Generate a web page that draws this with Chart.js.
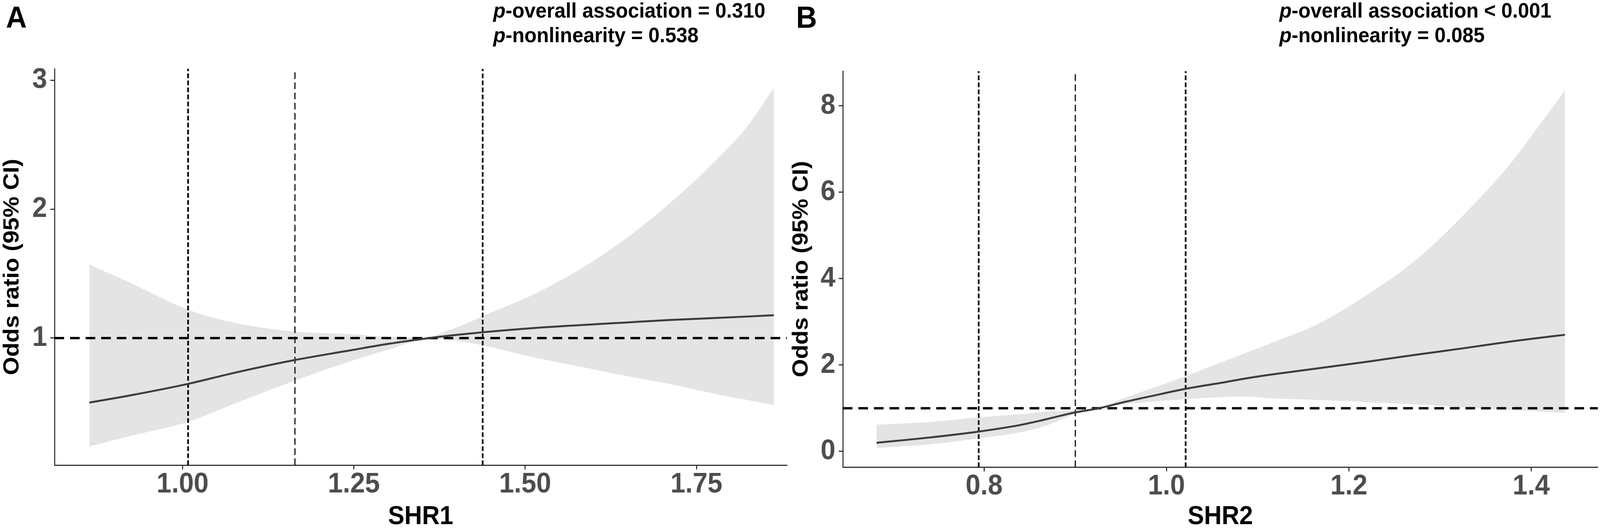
<!DOCTYPE html>
<html lang="en">
<head>
  <meta charset="UTF-8">
  <title>Odds ratio curves for SHR1 and SHR2</title>
  <script src="https://cdn.jsdelivr.net/npm/chart.js"></script>
  <style>
    html, body {
      margin: 0;
      padding: 0;
      background: #fff;
      overflow: hidden;
    }
    #page {
      width: 4317px;
      height: 1356px;
      position: absolute;
      left: 0;
      top: 0;
      transform-origin: 0 0;
      font-family: "Liberation Sans", Arial, sans-serif;
    }
    canvas {
      position: absolute;
      top: 0;
    }
    #chartA { left: 0; }
    #chartB { left: 2128px; }
    .letter {
      position: absolute;
      top: 5px;
      font-size: 78px;
      line-height: 78px;
      font-weight: bold;
      color: #000;
    }
    .note {
      position: absolute;
      top: -5px;
      font-size: 54px;
      line-height: 63px;
      font-weight: bold;
      color: #000;
      white-space: nowrap;
    }
  </style>
</head>
<body>
<div id="page">
  <div class="letter" style="left:16px">A</div>
  <div class="letter" style="left:2148px">B</div>
  <div class="note" style="left:1331px"><i>p</i>-overall association = 0.310<br><i>p</i>-nonlinearity = 0.538</div>
  <div class="note" style="left:3452px"><i>p</i>-overall association &lt; 0.001<br><i>p</i>-nonlinearity = 0.085</div>

  <canvas id="chartA" width="2150" height="1356"></canvas>
  <canvas id="chartB" width="2189" height="1356"></canvas>
</div>

  <script>
    // Panel A: SHR1
    const shr1 = [0.864, 0.923, 1.008, 1.075, 1.164, 1.245, 1.30, 1.36, 1.382, 1.404, 1.438, 1.513, 1.579, 1.644, 1.710, 1.775, 1.824, 1.863];
    const orA = [0.50, 0.555, 0.645, 0.73, 0.83, 0.905, 0.955, 1.00, 1.014, 1.027, 1.045, 1.078, 1.10, 1.12, 1.14, 1.155, 1.167, 1.177];
    const lowA = [0.16, 0.24, 0.35, 0.49, 0.67, 0.82, 0.91, 0.995, 0.99, 0.975, 0.945, 0.85, 0.78, 0.71, 0.645, 0.57, 0.52, 0.48];
    const upA = [1.57, 1.43, 1.22, 1.12, 1.05, 1.03, 1.01, 1.005, 1.05, 1.09, 1.17, 1.34, 1.53, 1.76, 2.04, 2.36, 2.64, 2.94];
    const cutsA = [1.008, 1.164, 1.438];
    const xTicksA = [1.00, 1.25, 1.50, 1.75];
    const xLabelsA = ['1.00', '1.25', '1.50', '1.75'];
    const yTicksA = [1, 2, 3];
    const yLabelsA = ['1', '2', '3'];

    // Panel B: SHR2
    const shr2 = [0.682, 0.739, 0.794, 0.839, 0.867, 0.899, 0.926, 0.953, 0.981, 1.021, 1.063, 1.087, 1.115, 1.168, 1.221, 1.274, 1.326, 1.379, 1.405, 1.437];
    const orB = [0.20, 0.32, 0.46, 0.61, 0.74, 0.90, 1.00, 1.14, 1.27, 1.45, 1.60, 1.69, 1.78, 1.93, 2.08, 2.24, 2.39, 2.55, 2.62, 2.70];
    const lowB = [0.08, 0.16, 0.30, 0.44, 0.59, 0.86, 0.99, 1.09, 1.15, 1.21, 1.26, 1.27, 1.23, 1.19, 1.14, 1.09, 1.02, 0.96, 0.93, 0.89];
    const upB = [0.62, 0.68, 0.79, 0.86, 0.92, 0.95, 1.01, 1.23, 1.44, 1.74, 2.09, 2.28, 2.51, 2.97, 3.64, 4.44, 5.48, 6.71, 7.44, 8.36];
    const cutsB = [0.794, 0.900, 1.021];
    const xTicksB = [0.8, 1.0, 1.2, 1.4];
    const xLabelsB = ['0.8', '1.0', '1.2', '1.4'];
    const yTicksB = [0, 2, 4, 6, 8];
    const yLabelsB = ['0', '2', '4', '6', '8'];

    const refOR = 1;

    // fit the 4317x1356 layout into whatever viewport we get
    const page = document.getElementById('page');
    const sx = window.innerWidth / 4317;
    const sy = window.innerHeight / 1356;
    page.style.transform = 'scale(' + sx + ',' + sy + ')';

    Chart.defaults.font.family = '"Liberation Sans", Arial, sans-serif';

    function pts(xs, ys) {
      return xs.map((x, i) => ({ x: x, y: ys[i] }));
    }

    function makePanel(id, p) {
      const datasets = [];
      // estimate line
      datasets.push({
        data: pts(p.xs, p.or),
        borderColor: '#3d3d3d',
        borderWidth: 5,
        pointRadius: 0,
        cubicInterpolationMode: 'monotone',
        fill: false,
        order: 0
      });
      // reference line OR = 1
      datasets.push({
        data: [{ x: p.xMin, y: refOR }, { x: p.xMax, y: refOR }],
        borderColor: '#000',
        borderWidth: 6,
        borderDash: [26, 16],
        pointRadius: 0,
        fill: false,
        order: 1
      });
      // cut points
      p.cuts.forEach((c, i) => {
        datasets.push({
          data: [{ x: c, y: p.yMin }, { x: c, y: p.yMax }],
          borderColor: '#000',
          borderWidth: i === 1 ? 3 : 4.5,
          borderDash: i === 1 ? [17, 9] : [12, 6],
          pointRadius: 0,
          fill: false,
          order: 1
        });
      });
      // confidence band
      const upIndex = datasets.length;
      datasets.push({
        data: pts(p.xs, p.up),
        borderWidth: 0,
        borderColor: 'rgba(0,0,0,0)',
        backgroundColor: '#e4e4e4',
        pointRadius: 0,
        cubicInterpolationMode: 'monotone',
        fill: { target: upIndex + 1 },
        order: 2
      });
      datasets.push({
        data: pts(p.xs, p.low),
        borderWidth: 0,
        borderColor: 'rgba(0,0,0,0)',
        pointRadius: 0,
        cubicInterpolationMode: 'monotone',
        fill: false,
        order: 2
      });

      const tickFont = { size: 72, weight: 'bold' };

      return new Chart(document.getElementById(id), {
        type: 'line',
        data: { datasets: datasets },
        options: {
          responsive: false,
          animation: false,
          events: [],
          layout: { padding: p.padding },
          plugins: {
            legend: { display: false },
            tooltip: { enabled: false }
          },
          scales: {
            x: {
              type: 'linear',
              min: p.xMin,
              max: p.xMax,
              afterBuildTicks: s => { s.ticks = p.xTicks.map(v => ({ value: v })); },
              afterFit: s => { s.height = p.xHeight; },
              ticks: {
                font: tickFont,
                color: '#4d4d4d',
                padding: -4,
                maxRotation: 0,
                callback: (v, i) => p.xLabels[i]
              },
              grid: {
                drawOnChartArea: false,
                drawTicks: true,
                tickLength: 11,
                tickColor: '#333',
                tickWidth: 3
              },
              border: { display: true, color: '#333', width: 3 },
              title: {
                display: true,
                text: p.xTitle,
                color: '#000',
                font: { size: 66, weight: 'bold', lineHeight: 1 },
                padding: { top: 0, bottom: 0 }
              }
            },
            y: {
              type: 'linear',
              min: p.yMin,
              max: p.yMax,
              afterBuildTicks: s => { s.ticks = p.yTicks.map(v => ({ value: v })); },
              afterFit: s => { s.width = p.yWidth; },
              ticks: {
                font: tickFont,
                color: '#4d4d4d',
                padding: 9,
                callback: (v, i) => p.yLabels[i]
              },
              grid: {
                drawOnChartArea: false,
                drawTicks: true,
                tickLength: 11,
                tickColor: '#333',
                tickWidth: 3
              },
              border: { display: true, color: '#333', width: 3 },
              title: {
                display: true,
                text: 'Odds ratio (95% CI)',
                color: '#000',
                font: { size: 60, weight: 'bold', lineHeight: 1 },
                padding: { top: p.yTitlePad, bottom: 0 }
              }
            }
          }
        }
      });
    }

    makePanel('chartA', {
      xs: shr1, or: orA, low: lowA, up: upA, cuts: cutsA,
      xMin: 0.813, xMax: 1.882, yMin: 0.015, yMax: 3.088,
      xTicks: xTicksA, xLabels: xLabelsA, yTicks: yTicksA, yLabels: yLabelsA,
      xTitle: 'SHR1',
      padding: { top: 176, right: 27, bottom: 0, left: 0 },
      xHeight: 166, yWidth: 147, yTitlePad: 3
    });

    makePanel('chartB', {
      xs: shr2, or: orB, low: lowB, up: upB, cuts: cutsB,
      xMin: 0.645, xMax: 1.473, yMin: -0.362, yMax: 8.805,
      xTicks: xTicksB, xLabels: xLabelsB, yTicks: yTicksB, yLabels: yLabelsB,
      xTitle: 'SHR2',
      padding: { top: 182, right: 6, bottom: 0, left: 0 },
      xHeight: 161, yWidth: 146, yTitlePad: 4
    });
  </script>
</body>
</html>
